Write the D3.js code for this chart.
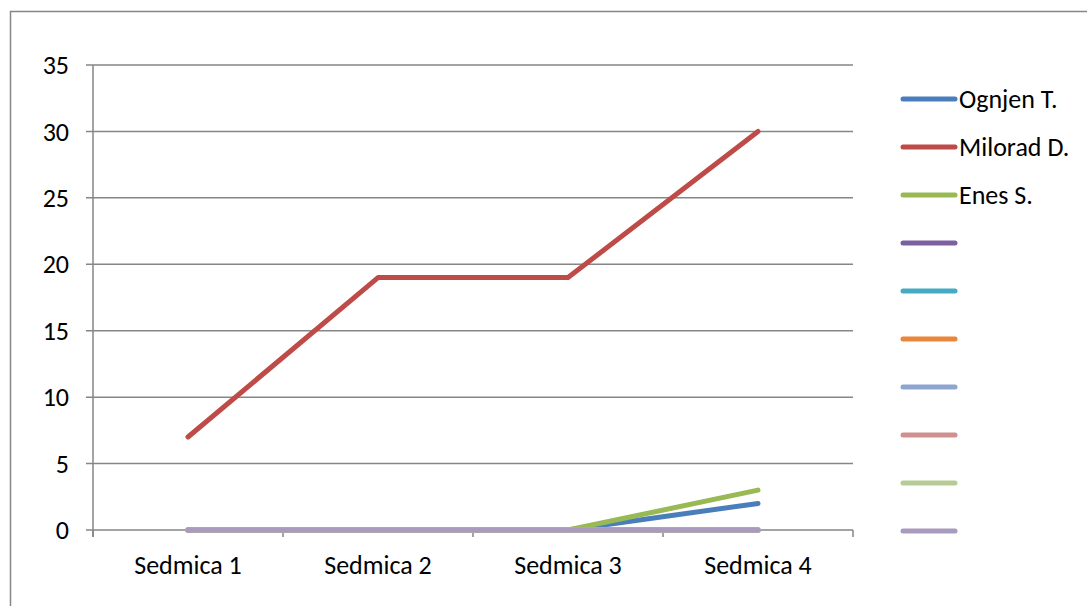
<!DOCTYPE html>
<html>
<head>
<meta charset="utf-8">
<script src="https://cdn.jsdelivr.net/npm/d3@7"></script>
<style>
  body { margin: 0; background: #fff; }
  svg { display: block; font-family: Carlito, Lato, "Open Sans", sans-serif; }
</style>
</head>
<body>
<svg id="chart" width="1087" height="606"></svg>
<script>
var categories = ["Sedmica 1", "Sedmica 2", "Sedmica 3", "Sedmica 4"]
var seriesNames = ["Ognjen T.", "Milorad D.", "Enes S.", "", "", "", "", "", "", ""]
var seriesColors = ["#4A7EBB", "#BE4B48", "#98B954", "#7D60A0", "#46AAC5", "#E8863A", "#8EA6CF", "#D09090", "#B6CC94", "#A99BBD"]
var ognjen = [0, 0, 0, 2]
var milorad = [7, 19, 19, 30]
var enes = [0, 0, 0, 3]
var empty = [0, 0, 0, 0]
var yTicks = [0, 5, 10, 15, 20, 25, 30, 35]

var seriesValues = [ognjen, milorad, enes, empty, empty, empty, empty, empty, empty, empty]

var svg = d3.select("#chart")

// outer chart frame (runs off the right and bottom edge)
svg.append("rect")
  .attr("x", 10.5).attr("y", 11.5)
  .attr("width", 1100).attr("height", 620)
  .attr("fill", "#fff").attr("stroke", "#868686").attr("stroke-width", 1.5)

var margin = {left: 93, top: 65, right: 853, bottom: 530}

var x = d3.scaleBand().domain(categories).range([margin.left, margin.right])
var y = d3.scaleLinear().domain([0, 35]).range([margin.bottom, margin.top])

// gridlines
svg.append("g")
  .selectAll("line")
  .data(yTicks)
  .enter().append("line")
  .attr("x1", margin.left - 7).attr("x2", margin.right)
  .attr("y1", function (d) { return y(d) }).attr("y2", function (d) { return y(d) })
  .attr("stroke", "#868686").attr("stroke-width", 1.5)

// y axis line
svg.append("line")
  .attr("x1", margin.left).attr("x2", margin.left)
  .attr("y1", margin.top).attr("y2", margin.bottom + 7)
  .attr("stroke", "#868686").attr("stroke-width", 1.5)

// y tick labels
svg.append("g")
  .selectAll("text")
  .data(yTicks)
  .enter().append("text")
  .attr("x", 69)
  .attr("y", function (d) { return y(d) })
  .attr("dy", "0.35em")
  .attr("text-anchor", "end")
  .attr("font-size", 26)
  .attr("fill", "#000")
  .text(function (d) { return d })

// x category ticks
var xTickPos = categories.map(function (c) { return x(c) }).concat([margin.right])
svg.append("g")
  .selectAll("line")
  .data(xTickPos)
  .enter().append("line")
  .attr("x1", function (d) { return d }).attr("x2", function (d) { return d })
  .attr("y1", margin.bottom).attr("y2", margin.bottom + 7)
  .attr("stroke", "#868686").attr("stroke-width", 1.5)

svg.append("g")
  .selectAll("text")
  .data(categories)
  .enter().append("text")
  .attr("x", function (d) { return x(d) + x.bandwidth() / 2 })
  .attr("y", 574)
  .attr("text-anchor", "middle")
  .attr("font-size", 26)
  .attr("fill", "#000")
  .text(function (d) { return d })

// lines
var line = d3.line()
  .x(function (d, i) { return x(categories[i]) + x.bandwidth() / 2 })
  .y(function (d) { return y(d) })

svg.append("g")
  .selectAll("path")
  .data(seriesValues)
  .enter().append("path")
  .attr("d", line)
  .attr("fill", "none")
  .attr("stroke", function (d, i) { return seriesColors[i] })
  .attr("stroke-width", 5)
  .attr("stroke-linecap", "round")
  .attr("stroke-linejoin", "round")

// legend
var legend = svg.append("g")
  .selectAll("g")
  .data(seriesNames)
  .enter().append("g")
  .attr("transform", function (d, i) { return "translate(903," + (99 + i * 48) + ")" })

legend.append("line")
  .attr("x1", 0).attr("x2", 52)
  .attr("stroke", function (d, i) { return seriesColors[i] })
  .attr("stroke-width", 5)
  .attr("stroke-linecap", "round")

legend.append("text")
  .attr("x", 56)
  .attr("dy", "0.35em")
  .attr("font-size", 26)
  .attr("fill", "#000")
  .text(function (d) { return d })
</script>
</body>
</html>
